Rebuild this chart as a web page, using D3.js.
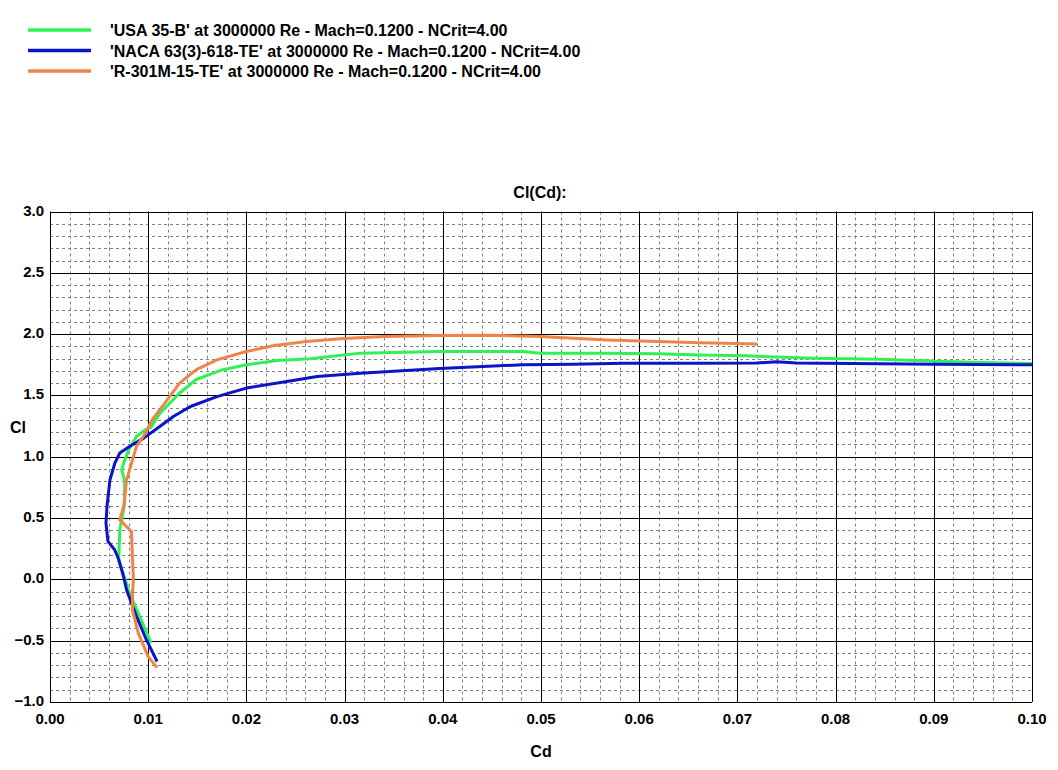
<!DOCTYPE html>
<html>
<head>
<meta charset="utf-8">
<script src="https://cdn.jsdelivr.net/npm/d3@7"></script>
<style>
  body { margin: 0; background: #fff; }
  svg { display: block; font-family: "Liberation Sans", Arial, sans-serif; font-weight: bold; }
</style>
</head>
<body>
<svg id="plot"></svg>
<script>
const WIDTH = 1058;
const HEIGHT = 770;

// Series: Cd / Cl pairs
const seriesNames = [
    "'USA 35-B' at 3000000 Re - Mach=0.1200 - NCrit=4.00",
    "'NACA 63(3)-618-TE' at 3000000 Re - Mach=0.1200 - NCrit=4.00",
    "'R-301M-15-TE' at 3000000 Re - Mach=0.1200 - NCrit=4.00"
];
const seriesColors = ['#2ff055', '#0a14c8', '#f08448'];

const usaCd = [0.0103, 0.0081, 0.0070, 0.0071, 0.0073, 0.0076, 0.0076, 0.0073, 0.0075, 0.0080, 0.0088, 0.0097, 0.0103,
    0.0112, 0.0132, 0.0149, 0.0176, 0.0200, 0.0231, 0.0265, 0.0316, 0.0397, 0.0482, 0.0499, 0.0567, 0.0618, 0.0662,
    0.0709, 0.0777, 0.0845, 0.0913, 0.0981, 0.1000];
const usaCl = [-0.52, -0.11, 0.16, 0.40, 0.485, 0.62, 0.81, 0.893, 0.947, 1.056, 1.165, 1.22, 1.24,
    1.356, 1.52, 1.63, 1.71, 1.75, 1.785, 1.80, 1.845, 1.858, 1.858, 1.845, 1.845, 1.84, 1.83,
    1.823, 1.804, 1.796, 1.777, 1.763, 1.76];

const nacaCd = [0.0109, 0.0098, 0.0088, 0.0078, 0.0075, 0.0070, 0.0066, 0.0059, 0.0057, 0.0058, 0.0061, 0.0066, 0.0071,
    0.0081, 0.0095, 0.0109, 0.0126, 0.0143, 0.0170, 0.0200, 0.0238, 0.0272, 0.0316, 0.0397, 0.0482, 0.0533, 0.0584,
    0.0662, 0.0720, 0.0740, 0.0760, 0.0900, 0.1000];
const nacaCl = [-0.67, -0.49, -0.30, -0.086, 0.02, 0.16, 0.24, 0.31, 0.46, 0.594, 0.81, 0.947, 1.03,
    1.083, 1.15, 1.23, 1.33, 1.41, 1.49, 1.56, 1.61, 1.654, 1.68, 1.72, 1.75, 1.755, 1.763,
    1.763, 1.765, 1.775, 1.765, 1.755, 1.75];

const rCd = [0.0109, 0.0100, 0.0090, 0.0084, 0.0084, 0.0085, 0.0084, 0.0083, 0.0071, 0.0075, 0.0078, 0.0083, 0.0088,
    0.0097, 0.0104, 0.0119, 0.0132, 0.0149, 0.0170, 0.0200, 0.0227, 0.0261, 0.0299, 0.0340, 0.0397, 0.0450, 0.0499,
    0.0567, 0.0601, 0.0662, 0.0720];
const rCl = [-0.72, -0.63, -0.44, -0.25, -0.11, 0.0, 0.16, 0.39, 0.485, 0.594, 0.81, 0.947, 1.083,
    1.19, 1.30, 1.46, 1.60, 1.71, 1.79, 1.858, 1.905, 1.94, 1.965, 1.98, 1.989, 1.99, 1.98,
    1.953, 1.943, 1.93, 1.92];

const xTicks = [0, 0.01, 0.02, 0.03, 0.04, 0.05, 0.06, 0.07, 0.08, 0.09, 0.10];
const yTicks = [-1.0, -0.5, 0.0, 0.5, 1.0, 1.5, 2.0, 2.5, 3.0];

function start() {
    const svg = d3.select('#plot')
        .attr('width', WIDTH)
        .attr('height', HEIGHT);

    const x = d3.scaleLinear().domain([0, 0.1]).range([50, 1032]);
    const y = d3.scaleLinear().domain([-1, 3]).range([702, 211.5]);

    // minor dashed grid: 5 subdivisions per major step
    const xMinor = d3.range(0, 0.1, 0.002).filter((v, i) => i % 5 !== 0);
    const yMinor = d3.range(-1, 3, 0.1).filter((v, i) => i % 5 !== 0);

    const grid = svg.append('g');
    grid.selectAll('.xm').data(xMinor).enter().append('line')
        .attr('x1', d => Math.round(x(d)) + 0.5).attr('x2', d => Math.round(x(d)) + 0.5)
        .attr('y1', y(3)).attr('y2', y(-1))
        .attr('stroke', '#808080').attr('stroke-dasharray', '3,3');
    grid.selectAll('.ym').data(yMinor).enter().append('line')
        .attr('y1', d => Math.round(y(d)) + 0.5).attr('y2', d => Math.round(y(d)) + 0.5)
        .attr('x1', x(0)).attr('x2', x(0.1))
        .attr('stroke', '#808080').attr('stroke-dasharray', '3,3');
    grid.selectAll('.xM').data(xTicks).enter().append('line')
        .attr('x1', d => Math.round(x(d)) + 0.5).attr('x2', d => Math.round(x(d)) + 0.5)
        .attr('y1', y(3)).attr('y2', y(-1))
        .attr('stroke', '#000');
    grid.selectAll('.yM').data(yTicks).enter().append('line')
        .attr('y1', d => Math.round(y(d)) + 0.5).attr('y2', d => Math.round(y(d)) + 0.5)
        .attr('x1', x(0)).attr('x2', x(0.1))
        .attr('stroke', '#000');

    // tick labels
    svg.append('g').selectAll('text').data(yTicks).enter().append('text')
        .attr('x', 44).attr('y', d => y(d) + 4)
        .attr('text-anchor', 'end').attr('font-size', 15)
        .text(d => d3.format('.1f')(d));
    svg.append('g').selectAll('text').data(xTicks).enter().append('text')
        .attr('x', d => x(d)).attr('y', 724)
        .attr('text-anchor', 'middle').attr('font-size', 15)
        .text(d => d3.format('.2f')(d));

    svg.append('text').attr('x', 540).attr('y', 198).attr('text-anchor', 'middle')
        .attr('font-size', 16).text('Cl(Cd):');
    svg.append('text').attr('x', 18).attr('y', 433).attr('text-anchor', 'middle')
        .attr('font-size', 16).text('Cl');
    svg.append('text').attr('x', 541).attr('y', 757).attr('text-anchor', 'middle')
        .attr('font-size', 16).text('Cd');

    // curves
    const series = [
        { cd: usaCd, cl: usaCl },
        { cd: nacaCd, cl: nacaCl },
        { cd: rCd, cl: rCl }
    ];
    const line = d3.line().x(d => x(d[0])).y(d => y(d[1]));
    svg.append('clipPath').attr('id', 'clip').append('rect')
        .attr('x', x(0)).attr('y', y(3)).attr('width', x(0.1) - x(0) + 2).attr('height', y(-1) - y(3));
    series.forEach((s, i) => {
        svg.append('path')
            .datum(s.cd.map((c, j) => [c, s.cl[j]]))
            .attr('d', line)
            .attr('fill', 'none')
            .attr('stroke', seriesColors[i])
            .attr('stroke-width', 3)
            .attr('stroke-linejoin', 'round')
            .attr('clip-path', 'url(#clip)');
    });

    // legend
    const legend = svg.append('g').selectAll('g').data(seriesNames).enter().append('g')
        .attr('transform', (d, i) => `translate(0, ${30 + i * 20.5})`);
    legend.append('line').attr('x1', 28).attr('x2', 91).attr('y1', 0).attr('y2', 0)
        .attr('stroke', (d, i) => seriesColors[i]).attr('stroke-width', 3.5);
    legend.append('text').attr('x', 110).attr('y', 6).attr('font-size', 16).text(d => d);
}

window.onload = start;
</script>
</body>
</html>
